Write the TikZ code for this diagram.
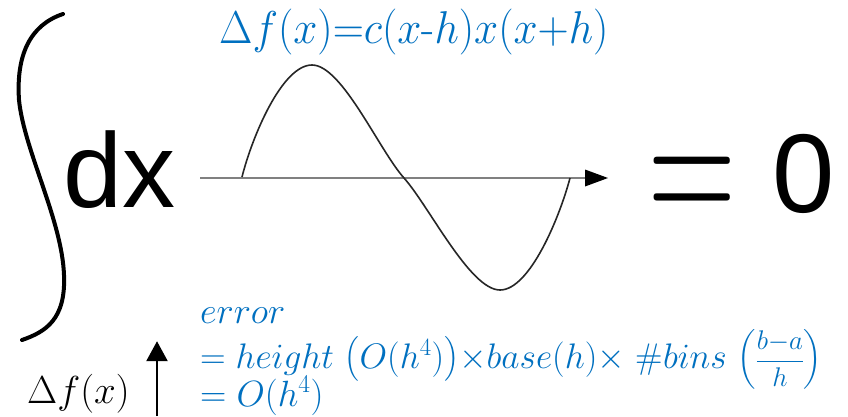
\RequirePackage{fix-cm}
\documentclass[tikz,border=0pt]{standalone}
\usepackage{amsmath}
\usepackage{fontspec}
\usepackage{graphicx}
\newfontfamily\arial{Liberation Sans}
\definecolor{offblue}{HTML}{0070C0}
\usetikzlibrary{arrows.meta}
\begin{document}
\begin{tikzpicture}[x=1pt,y=-1pt,
  bluetext/.style={text=offblue,inner sep=0pt,anchor=base west},
  bigtext/.style={inner sep=0pt,anchor=base west,font=\arial\fontsize{106}{110}\selectfont},
  curve/.style={line width=1.6pt,draw=black!85},
  axisline/.style={line width=2.8pt,draw=black!50},
]
\useasboundingbox[fill=white] (0,0) rectangle (848,416);
% integral sign
\draw[line width=4pt,line cap=round] (63,14) .. controls (30,25) and (16,55) .. (19,100)
  .. controls (24,150) and (62,220) .. (64,275) .. controls (66,320) and (45,332) .. (22,340);
% title
\node[bluetext,font=\fontsize{46}{54}\selectfont] (title) at (219,43)
  {\scalebox{0.94}[1]{$\Delta f(x){=}c(x\text{-}h)x(x{+}h)$}};
% dx
\node[bigtext] (dx) at (63.5,207) {dx};
% axis
\coordinate (axstart) at (200,178);
\coordinate (axend) at (608,178);
\draw[axisline] (axstart) -- (585,178);
\fill (585,169.5) -- (axend) -- (585,186.5) -- cycle;
% curve
\draw[curve] (242,177) .. controls (252,137) and (282,65) .. (312,65)
  .. controls (342,65) and (379,150) .. (404,178)
  .. controls (429,206) and (470,290) .. (500,290)
  .. controls (530,290) and (560,216) .. (570,178);
% = 0
\node[inner sep=0pt,anchor=base] (eq) at (692.5,230.5) {\scalebox{0.59}[1]{\fontsize{206}{206}\selectfont$=$}};
\node[inner sep=0pt,anchor=base] (zero) at (804,212) {\arial\fontsize{112}{112}\selectfont 0};
% bottom
\node[inner sep=0pt,anchor=base west] (df) at (27,403) {\fontsize{39}{44}\selectfont$\Delta f(x)$};
\coordinate (arrbot) at (157,416);
\node[inner sep=0pt,minimum size=0pt] (arrtop) at (157,341) {};
\draw[line width=2.6pt,-{Triangle[length=20pt,width=21pt]}] (arrbot) -- (arrtop);
\node[bluetext,font=\fontsize{36.5}{44}\selectfont] (err1) at (200,323) {$error$};
\node[bluetext,font=\fontsize{35.5}{44}\selectfont] (err2) at (200,368)
  {$=height\ \bigl(O(h^4)\bigr){\times}base(h){\times}\ \#bins\ \Bigl(\scalebox{0.76}{$\dfrac{b{-}a}{h}$}\Bigr)$};
\node[bluetext,font=\fontsize{36.5}{44}\selectfont] (err3) at (200,406) {$=O(h^4)$};
\end{tikzpicture}
\end{document}
